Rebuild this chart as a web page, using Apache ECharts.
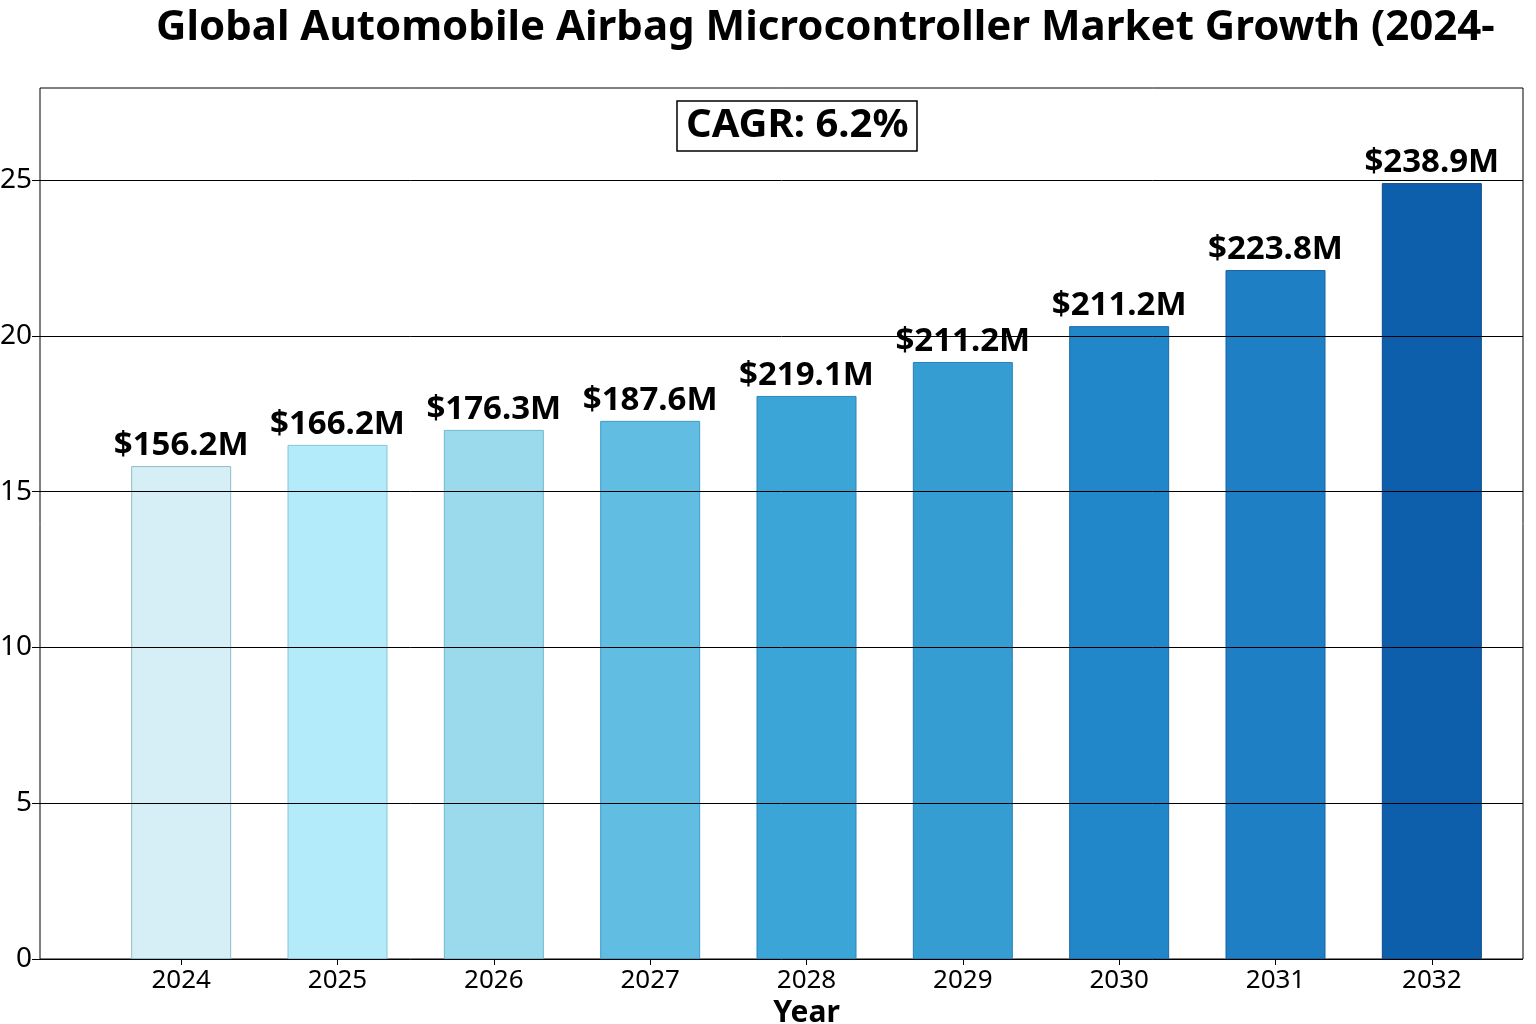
<!DOCTYPE html>
<html>
<head>
<meta charset="utf-8">
<script src="https://cdn.jsdelivr.net/npm/echarts@6/dist/echarts.min.js"></script>
<style>
  html, body { margin: 0; padding: 0; background: #fff; }
  #chart { width: 1536px; height: 1024px; }
</style>
</head>
<body>
<div id="chart"></div>
<script>
// data
var years = ['2024', '2025', '2026', '2027', '2028', '2029', '2030', '2031', '2032'];
var values = [15.82, 16.5, 16.98, 17.27, 18.07, 19.16, 20.31, 22.11, 24.9];
var valueLabels = ['$156.2M', '$166.2M', '$176.3M', '$187.6M', '$219.1M', '$211.2M', '$211.2M', '$223.8M', '$238.9M'];
var barColors = ['#d6eff6', '#b4ebfa', '#9bd9ed', '#62bde2', '#3aa5d6', '#369dd3', '#2287c9', '#1f7fc5', '#0d5fab'];
var borderColors = ['#8fbccb', '#86c6d8', '#6fb8d0', '#3f9cc8', '#2a86bb', '#2a80ba', '#1a6aab', '#17629f', '#0a4a8a'];
var yMax = 25;

var font = '"Noto Sans", "Open Sans", sans-serif';

var chart = echarts.init(document.getElementById('chart'));

var barData = [];
for (var i = 0; i < values.length; i++) {
  barData.push({
    value: values[i],
    itemStyle: { color: barColors[i], borderColor: borderColors[i], borderWidth: 1 }
  });
}

chart.setOption({
  backgroundColor: '#fff',
  animation: false,
  title: [{
    text: 'Global Automobile Airbag Microcontroller Market Growth (2024-',
    left: 151,
    top: 2,
    textStyle: { fontFamily: font, fontSize: 42, fontWeight: 'bold', color: '#000' }
  }, {
    text: 'CAGR: 6.2%',
    left: 677,
    top: 101,
    padding: [5, 9, 5, 9],
    borderColor: '#000',
    borderWidth: 1.5,
    textStyle: { fontFamily: font, fontSize: 40, fontWeight: 'bold', color: '#000' }
  }],
  grid: [
    // outer frame
    { left: 40, right: 13, top: 88, bottom: 65, show: true, borderColor: '#000', borderWidth: 1, backgroundColor: 'transparent', outerBoundsMode: 'none' },
    // y axis + gridlines
    { left: 40, right: 13, top: 180, bottom: 65, outerBoundsMode: 'none' },
    // bars
    { left: 103, right: 26, top: 180, bottom: 65, outerBoundsMode: 'none' }
  ],
  xAxis: [
    { gridIndex: 0, type: 'value', min: 0, max: 1, show: false },
    { gridIndex: 1, type: 'value', min: 0, max: 1, show: false },
    {
      gridIndex: 2,
      type: 'category',
      data: years,
      axisLine: { show: false },
      axisTick: { show: true, alignWithLabel: true, length: 6, lineStyle: { color: '#000' } },
      axisLabel: { fontFamily: font, fontSize: 26, color: '#000', margin: 9 },
      name: 'Year',
      nameLocation: 'middle',
      nameGap: 38,
      nameTextStyle: { fontFamily: font, fontSize: 30, fontWeight: 'bold', color: '#000' }
    }
  ],
  yAxis: [
    { gridIndex: 0, type: 'value', min: 0, max: 1, show: false },
    {
      gridIndex: 1,
      type: 'value',
      min: 0,
      max: yMax,
      interval: 5,
      z: 5,
      axisLine: { show: false },
      axisTick: { show: true, length: 8, lineStyle: { color: '#000' } },
      axisLabel: { fontFamily: font, fontSize: 28, color: '#000', margin: 8 },
      splitLine: { show: true, lineStyle: { color: '#000', width: 1 } }
    },
    { gridIndex: 2, type: 'value', min: 0, max: yMax, show: false, splitLine: { show: false } }
  ],
  series: [{
    type: 'bar',
    xAxisIndex: 2,
    yAxisIndex: 2,
    z: 2,
    barWidth: 100,
    data: barData,
    label: {
      show: true,
      position: 'top',
      distance: 4,
      fontFamily: font,
      fontSize: 33,
      fontWeight: 'bold',
      color: '#000',
      formatter: function (p) { return valueLabels[p.dataIndex]; }
    }
  }]
});
</script>
</body>
</html>
